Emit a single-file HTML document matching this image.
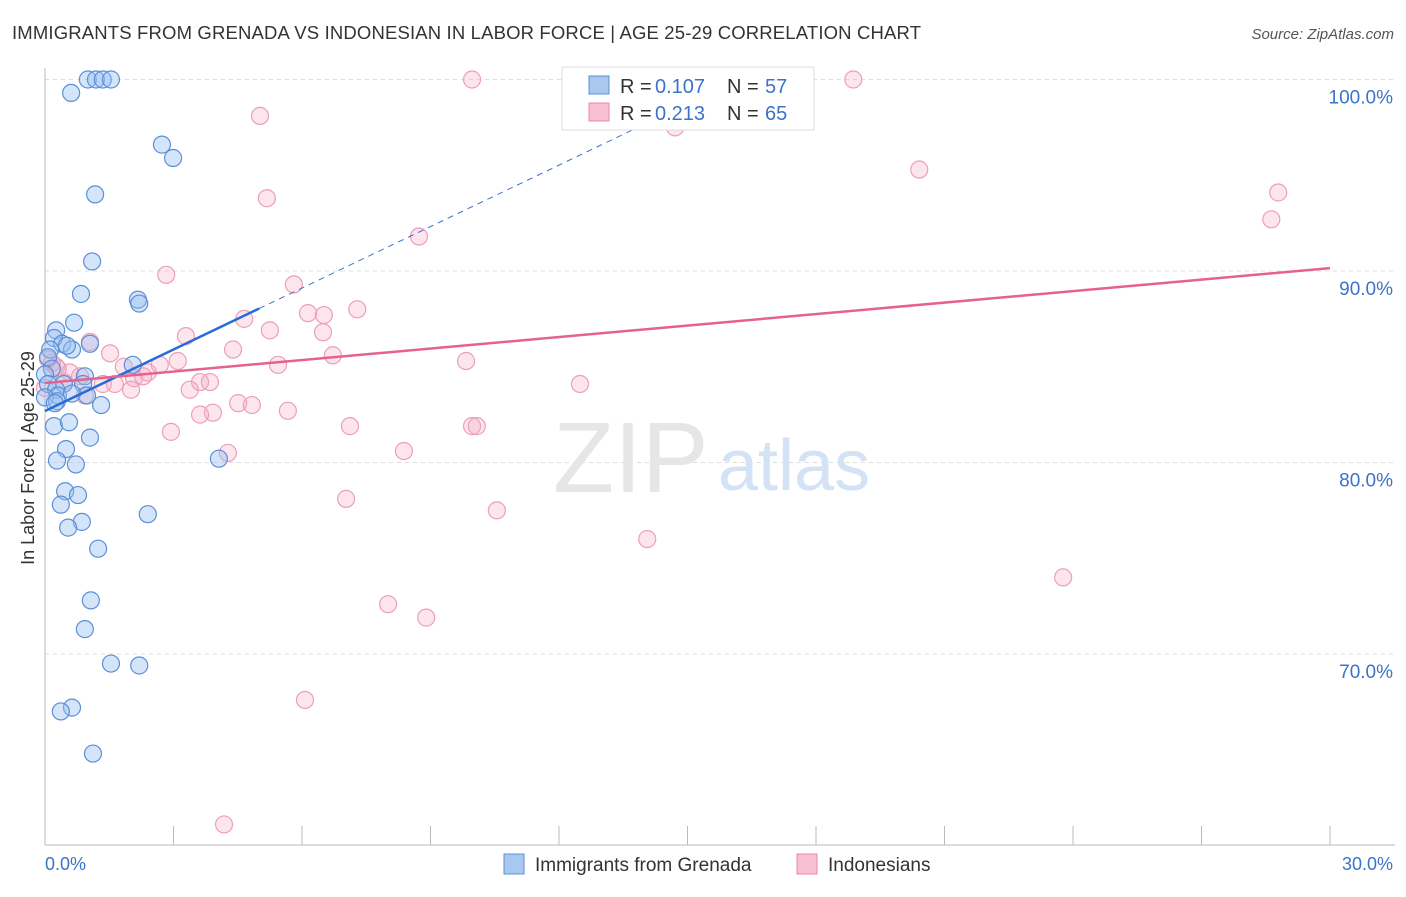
<!DOCTYPE html>
<html><head><meta charset="utf-8"><style>
body{margin:0;background:#fff;font-family:"Liberation Sans",sans-serif}
svg text{font-family:"Liberation Sans",sans-serif}
</style></head><body>
<svg id="c" width="1406" height="892">
<text x="12" y="39" font-size="18.5" fill="#333" textLength="909">IMMIGRANTS FROM GRENADA VS INDONESIAN IN LABOR FORCE | AGE 25-29 CORRELATION CHART</text>
<text x="1394" y="39" font-size="15" fill="#555" font-style="italic" text-anchor="end">Source: ZipAtlas.com</text>
<text x="34" y="458" font-size="18" fill="#333" text-anchor="middle" transform="rotate(-90 34 458)">In Labor Force | Age 25-29</text>
<g id="grid"></g>
<text x="553" y="492" font-size="100" fill="#e6e6e6" font-family="Liberation Serif">ZIP</text>
<text x="718" y="490" font-size="72" fill="#d3e2f4">atlas</text>
<g id="pts"></g>
<g id="lines"></g>
<g>
<rect x="562" y="67" width="252" height="63" fill="#fff" stroke="#ddd"/>
<rect x="589" y="76" width="20" height="18" fill="#a9c8f0" stroke="#5b8fd9"/>
<rect x="589" y="103" width="20" height="18" fill="#f7bfd0" stroke="#e88aa5"/>
<text x="620" y="93" font-size="20" fill="#333">R =</text><text x="655" y="93" font-size="20" fill="#3b73c8">0.107</text>
<text x="727" y="93" font-size="20" fill="#333">N =</text><text x="765" y="93" font-size="20" fill="#3b73c8">57</text>
<text x="620" y="120" font-size="20" fill="#333">R =</text><text x="655" y="120" font-size="20" fill="#3b73c8">0.213</text>
<text x="727" y="120" font-size="20" fill="#333">N =</text><text x="765" y="120" font-size="20" fill="#3b73c8">65</text>
</g>
<g>
<rect x="504" y="854" width="20" height="20" fill="#a9c8f0" stroke="#5b8fd9"/>
<text x="535" y="871" font-size="19" fill="#333">Immigrants from Grenada</text>
<rect x="797" y="854" width="20" height="20" fill="#f7bfd0" stroke="#e88aa5"/>
<text x="828" y="871" font-size="19" fill="#333">Indonesians</text>
</g>
<text x="45" y="870" font-size="18" fill="#3b73c8">0.0%</text>
<text x="1393" y="870" font-size="18" fill="#3b73c8" text-anchor="end">30.0%</text>
</svg>
<script>
const yTicks=[100,90,80,70];
const xTicks=[3,6,9,12,15,18,21,24,27,30];
const blueX=[1.0,1.19,1.35,1.54,0.61,2.73,2.99,1.17,1.1,0.84,2.17,2.2,0.68,0.26,0.21,0.4,1.05,0.63,0.51,0.12,0.07,0.16,0,0.93,0.07,0.44,0.89,0.26,0.3,0.98,0.63,0,0.28,0.23,1.31,0.21,0.56,1.05,0.49,0.28,0.72,4.06,0.47,0.77,0.37,2.4,0.86,0.54,1.24,1.07,0.93,1.54,2.2,0.63,0.37,1.12,2.05];
const blueY=[100,100,100,100,99.3,96.6,95.9,94.0,90.5,88.8,88.5,88.3,87.3,86.9,86.5,86.2,86.2,85.9,86.1,85.9,85.5,84.9,84.6,84.5,84.1,84.1,84.1,83.8,83.5,83.5,83.6,83.4,83.2,83.1,83.0,81.9,82.1,81.3,80.7,80.1,79.9,80.2,78.5,78.3,77.8,77.3,76.9,76.6,75.5,72.8,71.3,69.5,69.4,67.2,67.0,64.8,85.1];
const pinkX=[9.97,18.87,14.71,5.02,5.18,20.41,28.79,28.63,8.73,2.83,5.81,6.14,6.51,7.29,4.65,3.29,5.25,6.49,1.05,4.39,6.72,1.52,3.1,5.44,9.83,0.16,0.26,1.84,2.4,0.58,0.82,2.08,2.29,2.68,3.62,3.85,1.35,12.49,2.01,3.38,0.93,4.51,4.83,3.92,3.62,5.67,2.94,7.12,9.97,10.08,4.27,8.38,7.03,10.55,14.06,8.01,8.9,23.77,6.07,4.18,0.07,0.3,0,0.44,1.63];
const pinkY=[100,100,97.5,98.1,93.8,95.3,94.1,92.7,91.8,89.8,89.3,87.8,87.7,88.0,87.5,86.6,86.9,86.8,86.3,85.9,85.6,85.7,85.3,85.1,85.3,85.2,85.0,85.0,84.7,84.7,84.5,84.4,84.5,85.1,84.2,84.2,84.1,84.1,83.8,83.8,83.5,83.1,83.0,82.6,82.5,82.7,81.6,81.9,81.9,81.9,80.5,80.6,78.1,77.5,76.0,72.6,71.9,74.0,67.6,61.1,85.4,84.9,83.9,84.2,84.1];
const blueTrend=[82.69,1.07];
const pinkTrend=[84.15,0.2];
const X=v=>45+v/30*1285, Y=v=>79.5+(100-v)*19.15;
const NS='http://www.w3.org/2000/svg';
function mk(t,a,p){const e=document.createElementNS(NS,t);for(const k in a)e.setAttribute(k,a[k]);p.appendChild(e);return e;}
const g=document.getElementById('grid');
yTicks.forEach(v=>{const l=mk('line',{x1:45,x2:1395,y1:Y(v),y2:Y(v),stroke:'#ddd','stroke-dasharray':'4 4'},g);


const t=mk('text',{x:1393,y:Y(v)+24,'font-size':19,fill:'#3b73c8','text-anchor':'end'},g);t.textContent=v.toFixed(1)+'%';

});
const ax=mk('line',{x1:45,x2:45,y1:68,y2:845,stroke:'#bbb'},g);


const bx=mk('line',{x1:45,x2:1395,y1:845,y2:845,stroke:'#bbb'},g);


xTicks.forEach(v=>{const l=mk('line',{x1:X(v),x2:X(v),y1:826,y2:845,stroke:'#bbb'},g);

});
const p=document.getElementById('pts');
pinkX.forEach((x,i)=>{const c=mk('circle',{cx:X(x),cy:Y(pinkY[i]),r:8.5,fill:'rgba(244,170,195,0.3)',stroke:'#ec9fb8','stroke-width':1.2},p);

});
blueX.forEach((x,i)=>{const c=mk('circle',{cx:X(x),cy:Y(blueY[i]),r:8.5,fill:'rgba(150,190,240,0.4)',stroke:'#5b8fd9','stroke-width':1.2},p);

});
const L=document.getElementById('lines');
const xe=(100-blueTrend[0])/blueTrend[1];
const d=mk('line',{x1:X(5),y1:Y(blueTrend[0]+blueTrend[1]*5),x2:X(xe),y2:Y(100),stroke:'#3b73c8','stroke-width':1,'stroke-dasharray':'6 5'},L);


const b=mk('line',{x1:X(0),y1:Y(blueTrend[0]),x2:X(5),y2:Y(blueTrend[0]+blueTrend[1]*5),stroke:'#2a6ad6','stroke-width':2.5},L);


const q=mk('line',{x1:X(0),y1:Y(pinkTrend[0]),x2:X(30),y2:Y(pinkTrend[0]+pinkTrend[1]*30),stroke:'#e5628c','stroke-width':2.5},L);


</script>
</body></html>
